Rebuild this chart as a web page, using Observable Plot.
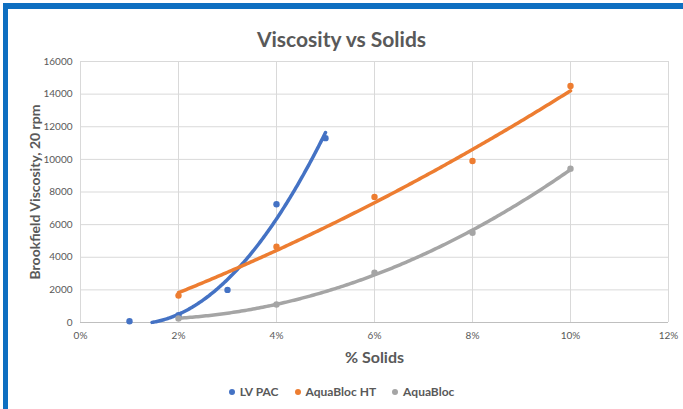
<!DOCTYPE html>
<html>
<head>
<meta charset="utf-8">
<script src="https://cdn.jsdelivr.net/npm/d3@7"></script>
<script src="https://cdn.jsdelivr.net/npm/@observablehq/plot@0.6"></script>
<style>
  html, body { margin: 0; padding: 0; background: #fff; }
  #wrap { position: relative; width: 683px; height: 409px; overflow: hidden; font-family: Lato, "Open Sans", sans-serif; }
  #frame { position: absolute; left: 3px; top: 3px; width: 690px; height: 400px;
           border-top: 6px solid #0E6FC1; border-left: 5px solid #0E6FC1; border-bottom: 4px solid #0E6FC1; box-sizing: content-box; }
  #title { position: absolute; left: 0; width: 683px; top: 26px; text-align: center; font-weight: bold; font-size: 21px; color: #595959; }
  #legend { position: absolute; left: 0; width: 683px; top: 384px; text-align: center; font-weight: bold; font-size: 12px; color: #595959; }
  #legend span.item { margin: 0 8px; }
  #legend span.sw { display: inline-block; width: 6px; height: 6px; border-radius: 50%; margin-right: 5px; vertical-align: 1px; }
  #chart { position: absolute; left: 0; top: 0; }
</style>
</head>
<body>
<div id="wrap">
  <div id="frame"></div>
  <div id="chart"></div>
  <div id="title">Viscosity vs Solids</div>
  <div id="legend"></div>
</div>
<script>
// ---- data ----
const seriesNames = ["LV PAC", "AquaBloc HT", "AquaBloc"];
const seriesColors = ["#4472C4", "#ED7D31", "#A5A5A5"];
const solidsLvPac = [1, 2, 3, 4, 5];
const viscLvPac = [80, 450, 2000, 7250, 11300];
const solidsAqua = [2, 4, 6, 8, 10];
const viscAquaHT = [1650, 4650, 7700, 9900, 14500];
const viscAqua = [250, 1100, 3050, 5500, 9430];
const xTicks = [0, 2, 4, 6, 8, 10, 12];
const yTicks = [0, 2000, 4000, 6000, 8000, 10000, 12000, 14000, 16000];

// ---- tables ----
const series = [
  {name: seriesNames[0], xs: solidsLvPac, ys: viscLvPac},
  {name: seriesNames[1], xs: solidsAqua, ys: viscAquaHT},
  {name: seriesNames[2], xs: solidsAqua, ys: viscAqua}
];
const points = series.flatMap(s => s.xs.map((x, i) => ({series: s.name, x, y: s.ys[i]})));

// 2nd-order polynomial least-squares trendline (as in the spreadsheet chart)
function polyFit(xs, ys) {
  const n = xs.length;
  let s0 = n, s1 = 0, s2 = 0, s3 = 0, s4 = 0, t0 = 0, t1 = 0, t2 = 0;
  for (let i = 0; i < n; i++) {
    const x = xs[i], y = ys[i];
    s1 += x; s2 += x*x; s3 += x*x*x; s4 += x*x*x*x;
    t0 += y; t1 += x*y; t2 += x*x*y;
  }
  const M = [[s0, s1, s2, t0], [s1, s2, s3, t1], [s2, s3, s4, t2]];
  for (let c = 0; c < 3; c++) {
    for (let r = c + 1; r < 3; r++) {
      const f = M[r][c] / M[c][c];
      for (let k = c; k < 4; k++) M[r][k] -= f * M[c][k];
    }
  }
  const coef = [0, 0, 0];
  for (let r = 2; r >= 0; r--) {
    let v = M[r][3];
    for (let k = r + 1; k < 3; k++) v -= M[r][k] * coef[k];
    coef[r] = v / M[r][r];
  }
  return x => coef[0] + coef[1]*x + coef[2]*x*x;
}
const trend = series.flatMap(s => {
  const f = polyFit(s.xs, s.ys);
  const x0 = d3.min(s.xs), x1 = d3.max(s.xs);
  return d3.range(0, 201).map(i => {
    const x = x0 + (x1 - x0) * i / 200;
    return {series: s.name, x, y: f(x)};
  }).filter(d => d.y >= 0);
});

const chart = Plot.plot({
  width: 683,
  height: 409,
  marginLeft: 80,
  marginRight: 15,
  marginTop: 61,
  marginBottom: 87,
  style: {fontFamily: "Lato, 'Open Sans', sans-serif", background: "transparent", color: "#595959"},
  x: {domain: [0, 12], ticks: xTicks, tickFormat: d => d + "%", label: null},
  y: {domain: [0, 16000], ticks: yTicks, tickFormat: d => String(d), label: null},
  color: {domain: seriesNames, range: seriesColors},
  marks: [
    Plot.gridX(xTicks, {stroke: "#D9D9D9", strokeOpacity: 1, strokeWidth: 1}),
    Plot.gridY(yTicks, {stroke: "#D9D9D9", strokeOpacity: 1, strokeWidth: 1}),
    Plot.ruleY([0], {stroke: "#BFBFBF", strokeWidth: 1}),
    Plot.axisX(xTicks, {tickSize: 0, tickPadding: 9, fontSize: 10, fill: "#595959", tickFormat: d => d + "%", label: null}),
    Plot.axisY(yTicks, {tickSize: 0, tickPadding: 8, fontSize: 10, fill: "#595959", tickFormat: d => String(d), label: null}),
    Plot.line(trend, {x: "x", y: "y", z: "series", stroke: "series", strokeWidth: 3.5, curve: "linear"}),
    Plot.dot(points, {x: "x", y: "y", fill: "series", r: 3.2}),
    Plot.text(["% Solids"], {frameAnchor: "bottom", dy: 40, fontSize: 16, fontWeight: "bold", fill: "#595959"}),
    Plot.text(["Brookfield Viscosity, 20 rpm"], {frameAnchor: "left", textAnchor: "middle", dx: -45, rotate: -90, fontSize: 14, fontWeight: "bold", fill: "#595959"})
  ]
});
document.getElementById("chart").appendChild(chart);

const legend = document.getElementById("legend");
seriesNames.forEach((n, i) => {
  const item = document.createElement("span");
  item.className = "item";
  const sw = document.createElement("span");
  sw.className = "sw";
  sw.style.background = seriesColors[i];
  item.appendChild(sw);
  item.appendChild(document.createTextNode(n));
  legend.appendChild(item);
});
</script>
</body>
</html>
